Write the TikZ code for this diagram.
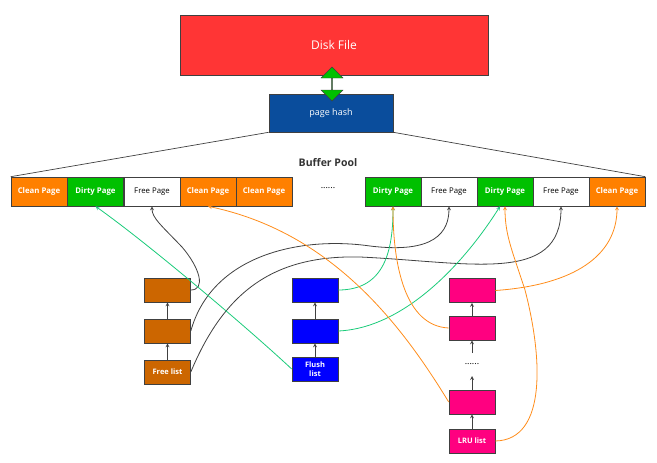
\documentclass[tikz,border=0pt]{standalone}
\usepackage{fontspec}
\setmainfont{Open Sans}
\usetikzlibrary{shapes.arrows}

\definecolor{edge}{HTML}{404040}
\definecolor{diskred}{HTML}{FF3535}
\definecolor{hashblue}{HTML}{0A4D9C}
\definecolor{cleanorange}{HTML}{FF8000}
\definecolor{dirtygreen}{HTML}{00C000}
\definecolor{freebrown}{HTML}{CC6600}
\definecolor{flushblue}{HTML}{0000FF}
\definecolor{lrupink}{HTML}{FF0080}
\definecolor{linkgreen}{HTML}{1ACB7A}
\definecolor{linkorange}{HTML}{FF8C1A}

\tikzset{
  box/.style={draw=edge, line width=0.6pt, inner sep=0pt},
  cell/.style={box, minimum width=56pt, minimum height=29pt,
    font=\fontsize{7.8}{9}\selectfont\bfseries, text=white},
  clean/.style={cell, fill=cleanorange},
  dirty/.style={cell, fill=dirtygreen},
  free/.style={cell, fill=white, text=black, font=\fontsize{7.8}{9}\selectfont},
  item/.style={box, minimum width=46pt, minimum height=24pt, align=center,
    font=\fontsize{7.5}{8.5}\selectfont\bfseries, text=white},
  uparrow/.style={->, line width=0.8pt, draw=edge},
  link/.style={->, line width=0.8pt}
}

\begin{document}
\begin{tikzpicture}[x=1pt, y=-1pt, >=stealth]
  \useasboundingbox (0,0) rectangle (657,463);

  % disk and hash
  \node[box, fill=diskred, minimum width=308pt, minimum height=60pt, text=white,
    font=\fontsize{12}{14}\selectfont] (disk) at (334,45) {Disk File};
  \node[box, fill=hashblue, minimum width=124pt, minimum height=38pt, text=white,
    font=\fontsize{9}{11}\selectfont] (hash) at (331,113) {page hash};
  \node[double arrow, shape border rotate=90, draw=edge, fill=dirtygreen,
    minimum height=34pt, minimum width=22pt, double arrow head extend=6pt,
    inner sep=0pt] (swap) at (332,84) {};

  % buffer pool
  \node[font=\fontsize{10.5}{12}\selectfont\bfseries, text=black!80] (pool) at (328,163) {Buffer Pool};
  \node[clean] (L1) at (39,191.5) {Clean Page};
  \node[dirty] (L2) at (95.5,191.5) {Dirty Page};
  \node[free]  (L3) at (152,191.5) {Free Page};
  \node[clean] (L4) at (208,191.5) {Clean Page};
  \node[clean] (L5) at (264,191.5) {Clean Page};
  \node[font=\fontsize{9}{10}\selectfont] (gap) at (328,188) {......};
  \node[dirty] (R1) at (393,191.5) {Dirty Page};
  \node[free]  (R2) at (449,191.5) {Free Page};
  \node[dirty] (R3) at (505,191.5) {Dirty Page};
  \node[free]  (R4) at (561,191.5) {Free Page};
  \node[clean] (R5) at (617,191.5) {Clean Page};

  \draw[line width=0.7pt, edge] (hash.south west) -- (L1.north west);
  \draw[line width=0.7pt, edge] (hash.south east) -- (R5.north east);

  % free list
  \node[item, fill=freebrown] (f1) at (167.5,290) {};
  \node[item, fill=freebrown] (f2) at (167.5,331) {};
  \node[item, fill=freebrown] (fl) at (167.5,372) {Free list};
  \draw[uparrow] (fl) -- (f2);
  \draw[uparrow] (f2) -- (f1);

  % flush list
  \node[item, fill=flushblue] (u1) at (315,290) {};
  \node[item, fill=flushblue] (u2) at (315,331) {};
  \node[item, fill=flushblue] (ul) at (315,369) {Flush\\list};
  \draw[uparrow] (ul) -- (u2);
  \draw[uparrow] (u2) -- (u1);

  % lru list
  \node[item, fill=lrupink] (r1) at (472,290.5) {};
  \node[item, fill=lrupink] (r2) at (472,328) {};
  \node[font=\fontsize{9}{10}\selectfont] (dots) at (472,364) {......};
  \node[item, fill=lrupink] (r3) at (472,402) {};
  \node[item, fill=lrupink] (rl) at (472,441) {LRU list};
  \coordinate (gaptop) at (472,353);
  \coordinate (gapbottom) at (472,376);
  \draw[uparrow] (rl) -- (r3);
  \draw[uparrow] (r3.north) -- (gapbottom);
  \draw[uparrow] (gaptop) -- (r2.south);
  \draw[uparrow] (r2) -- (r1);

  % free list links
  \draw[link, edge] (f1.east) .. controls (206,290) and (200,268) .. (182,247)
    .. controls (162,226) and (152,218) .. (L3.south);
  \draw[link, edge] (f2.east) .. controls (212,255) and (300,236) .. (370,246)
    .. controls (435,254) and (449,232) .. (R2.south);
  \draw[link, edge] (fl.east) .. controls (225,290) and (275,255) .. (360,257)
    .. controls (470,262) and (561,285) .. (R4.south);

  % flush list links
  \draw[link, linkgreen] (ul.west) .. controls (250,330) and (150,245) .. (L2.south);
  \draw[link, linkgreen] (u1.east) .. controls (385,290) and (393,250) .. (R1.south);
  \draw[link, linkgreen] (u2.east) .. controls (405,328) and (465,262) .. ([xshift=-5pt]R3.south);

  % lru list links
  \draw[link, linkorange] (r1.east) .. controls (575,285) and (617,255) .. (R5.south);
  \draw[link, linkorange] (r2.west) .. controls (405,326) and (393,265) .. (R1.south);
  \draw[link, linkorange] (r3.west) .. controls (400,322) and (330,232) .. (L4.south);
  \draw[link, linkorange] (rl.east) .. controls (548,440) and (542,355) .. (525,290)
    .. controls (512,250) and (505,235) .. (R3.south);
\end{tikzpicture}
\end{document}
